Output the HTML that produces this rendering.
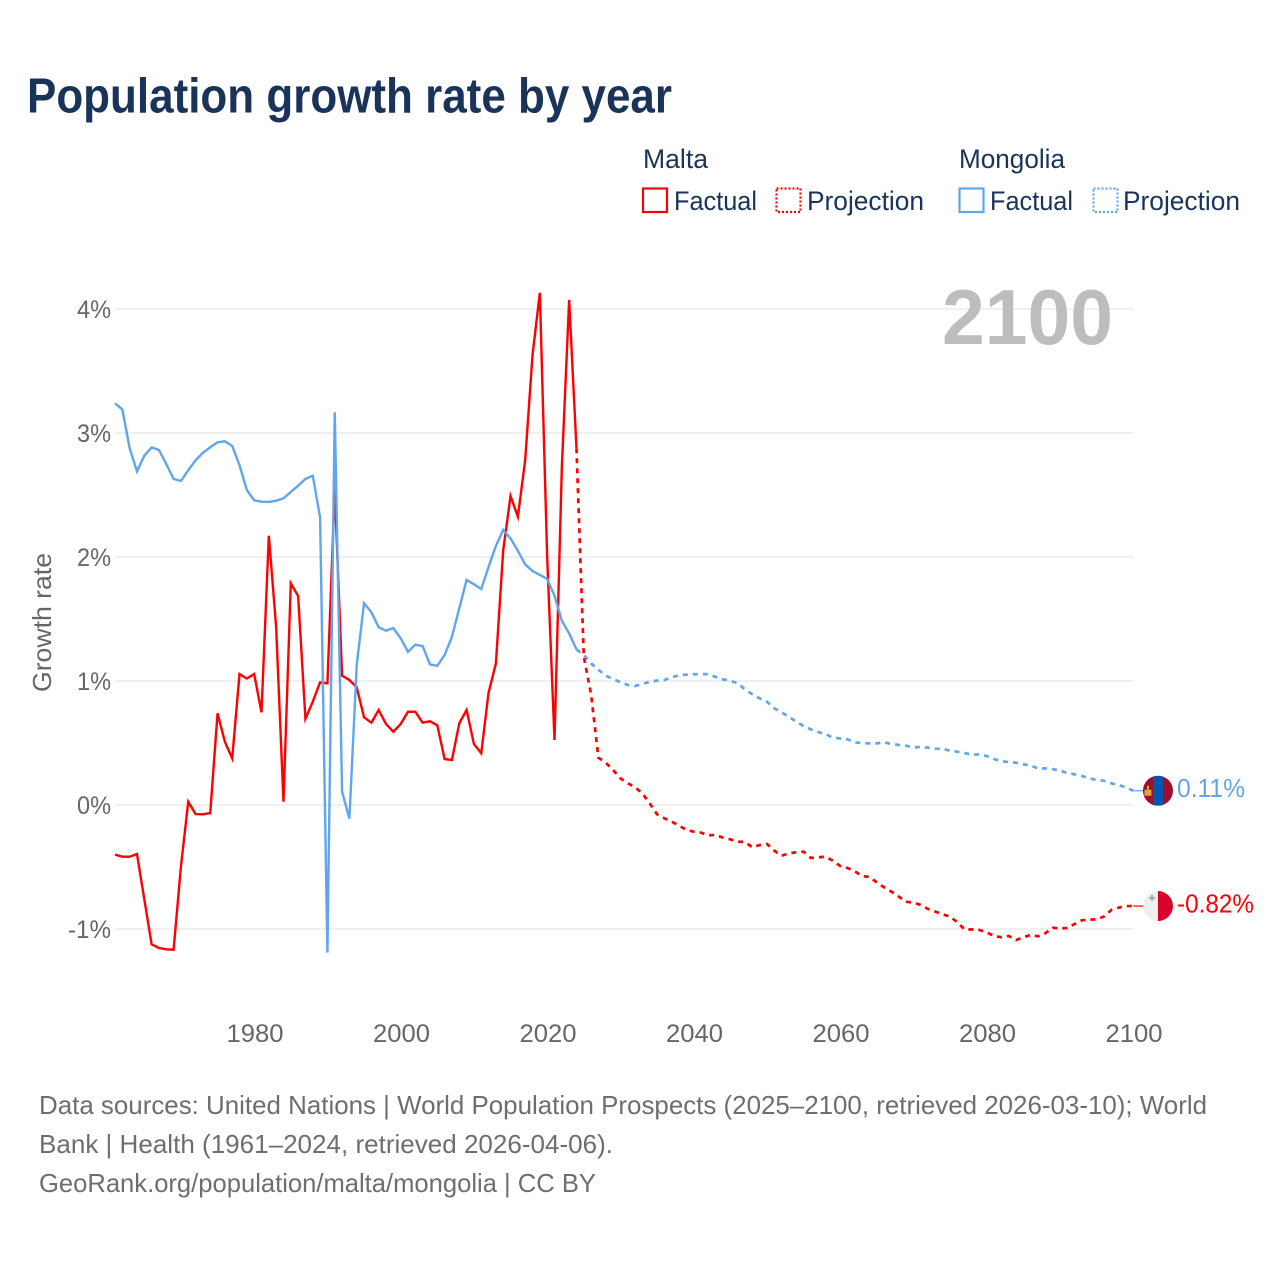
<!DOCTYPE html>
<html lang="en">
<head>
<meta charset="utf-8">
<title>Population growth rate by year</title>
<style>
html,body{margin:0;padding:0;background:#fff;width:1280px;height:1280px;overflow:hidden}
svg{display:block;font-family:"Liberation Sans",Arial,sans-serif}
</style>
</head>
<body>
<svg id="chart" width="1280" height="1280" viewBox="0 0 1280 1280" xmlns="http://www.w3.org/2000/svg">
  <rect width="1280" height="1280" fill="#fff"/>
  <text x="27" y="112.5" font-size="49" font-weight="700" fill="#1a3358" textLength="645" lengthAdjust="spacingAndGlyphs">Population growth rate by year</text>

  <g font-size="27" fill="#1a3358">
    <text x="643" y="168" textLength="65" lengthAdjust="spacingAndGlyphs">Malta</text>
    <rect x="643" y="188.5" width="24" height="23.5" fill="none" stroke="#ff0000" stroke-width="2.2"/>
    <text x="674" y="210" textLength="83" lengthAdjust="spacingAndGlyphs">Factual</text>
    <rect x="776.5" y="188.5" width="24" height="23.5" fill="none" stroke="#ff0000" stroke-width="2.2" stroke-dasharray="2 2"/>
    <text x="807" y="210" textLength="117" lengthAdjust="spacingAndGlyphs">Projection</text>
    <text x="959" y="168" textLength="106" lengthAdjust="spacingAndGlyphs">Mongolia</text>
    <rect x="959.5" y="188.5" width="24" height="23.5" fill="none" stroke="#5fa6ee" stroke-width="2.2"/>
    <text x="990" y="210" textLength="83" lengthAdjust="spacingAndGlyphs">Factual</text>
    <rect x="1093.5" y="188.5" width="24" height="23.5" fill="none" stroke="#5fa6ee" stroke-width="2.2" stroke-dasharray="2 2"/>
    <text x="1123" y="210" textLength="117" lengthAdjust="spacingAndGlyphs">Projection</text>
  </g>

  <g id="grid"></g>
  <g id="yLabels" font-size="25" fill="#666"></g>
  <g id="xLabels" font-size="25" fill="#666"></g>
  <text transform="translate(51,692) rotate(-90)" font-size="26" fill="#666" textLength="139" lengthAdjust="spacingAndGlyphs">Growth rate</text>
  <text x="942" y="344" font-size="78" font-weight="700" fill="#bdbdbd" textLength="171" lengthAdjust="spacingAndGlyphs">2100</text>

  <g id="series"></g>

  <g id="flagMongolia">
    <clipPath id="clipMn"><circle cx="0" cy="0" r="15"/></clipPath>
    <g clip-path="url(#clipMn)">
      <rect x="-15" y="-15" width="30" height="30" fill="#a00c2b"/>
      <rect x="-5" y="-15" width="10" height="30" fill="#0056b3"/>
      <rect x="-13.5" y="-1" width="7" height="6" fill="#e8a33d"/>
      <rect x="-11" y="-5" width="2" height="4" fill="#e8a33d"/>
    </g>
  </g>
  <g id="flagMalta">
    <clipPath id="clipMt"><circle cx="0" cy="0" r="15"/></clipPath>
    <g clip-path="url(#clipMt)">
      <rect x="-15" y="-15" width="15" height="30" fill="#eeeeee"/>
      <rect x="0" y="-15" width="15" height="30" fill="#d8002c"/>
      <path d="M-7-11h2v2h2v2h-2v2h-2v-2h-2v-2h2z" fill="#aaa"/>
    </g>
  </g>
  <text id="labelMongolia" x="1177" font-size="26" fill="#5fa6ee" textLength="68" lengthAdjust="spacingAndGlyphs"></text>
  <text id="labelMalta" x="1177" font-size="26" fill="#ff0000" textLength="77" lengthAdjust="spacingAndGlyphs"></text>

  <g font-size="26" fill="#6e6e6e">
    <text x="39" y="1114" textLength="1168" lengthAdjust="spacingAndGlyphs">Data sources: United Nations | World Population Prospects (2025–2100, retrieved 2026-03-10); World</text>
    <text x="39" y="1153" textLength="574" lengthAdjust="spacingAndGlyphs">Bank | Health (1961–2024, retrieved 2026-04-06).</text>
    <text x="39" y="1192" textLength="557" lengthAdjust="spacingAndGlyphs">GeoRank.org/population/malta/mongolia | CC BY</text>
  </g>
</svg>
<script>
const factualStartYear = 1961;
const projectionStartYear = 2024;
const xTicks = [1980, 2000, 2020, 2040, 2060, 2080, 2100];
const yTicks = [4, 3, 2, 1, 0, -1];
const endLabels = ["0.11%", "-0.82%"];

const maltaFactual = [-0.40,-0.417,-0.417,-0.395,-0.76,-1.124,-1.153,-1.164,-1.167,-0.497,0.027,-0.073,-0.075,-0.065,0.739,0.51,0.376,1.056,1.02,1.056,0.747,2.172,1.435,0.027,1.788,1.685,0.696,0.833,0.989,0.981,2.55,1.043,1.008,0.949,0.707,0.664,0.766,0.653,0.591,0.653,0.752,0.752,0.664,0.675,0.643,0.371,0.363,0.659,0.766,0.492,0.417,0.906,1.142,2.056,2.492,2.325,2.782,3.629,4.131,2.0,0.524,2.72,4.073,2.877];
const mongoliaFactual = [3.24,3.19,2.877,2.69,2.817,2.884,2.863,2.75,2.63,2.613,2.70,2.78,2.84,2.885,2.925,2.933,2.895,2.74,2.54,2.457,2.446,2.444,2.454,2.473,2.524,2.575,2.63,2.656,2.32,-1.19,3.167,0.107,-0.11,1.13,1.627,1.554,1.433,1.406,1.427,1.344,1.236,1.293,1.282,1.134,1.123,1.21,1.357,1.586,1.815,1.78,1.742,1.92,2.09,2.218,2.15,2.05,1.94,1.887,1.855,1.823,1.688,1.486,1.384,1.255];
const maltaProjection = [2.877,1.196,0.89,0.381,0.341,0.282,0.215,0.175,0.143,0.094,0.013,-0.075,-0.107,-0.134,-0.167,-0.2,-0.215,-0.223,-0.244,-0.242,-0.263,-0.277,-0.296,-0.298,-0.341,-0.323,-0.314,-0.368,-0.409,-0.39,-0.381,-0.376,-0.427,-0.422,-0.417,-0.449,-0.492,-0.508,-0.535,-0.573,-0.58,-0.624,-0.664,-0.699,-0.739,-0.78,-0.788,-0.806,-0.839,-0.86,-0.882,-0.90,-0.946,-1.005,-1.003,-1.008,-1.027,-1.056,-1.067,-1.056,-1.089,-1.067,-1.048,-1.059,-1.035,-0.99,-0.995,-0.992,-0.96,-0.93,-0.925,-0.922,-0.90,-0.847,-0.828,-0.815,-0.815];
const mongoliaProjection = [1.255,1.21,1.142,1.09,1.043,1.016,0.99,0.968,0.96,0.976,0.994,1.003,1.008,1.03,1.046,1.051,1.054,1.057,1.054,1.032,1.013,1.003,0.981,0.933,0.893,0.86,0.833,0.78,0.747,0.712,0.672,0.637,0.61,0.588,0.572,0.543,0.537,0.53,0.505,0.5,0.497,0.497,0.505,0.492,0.484,0.478,0.465,0.468,0.462,0.454,0.452,0.438,0.43,0.419,0.406,0.408,0.395,0.371,0.352,0.347,0.341,0.328,0.32,0.293,0.296,0.29,0.277,0.258,0.247,0.234,0.215,0.202,0.196,0.175,0.161,0.143,0.115];

const NS = "http://www.w3.org/2000/svg";
const xScale = function (year) { return 115 + (year - 1961) * 7.325; };
const yScale = function (value) { return 805 - value * 124; };

function linePoints(values, startYear) {
  return values.map(function (v, i) {
    return xScale(startYear + i).toFixed(2) + "," + yScale(v).toFixed(2);
  }).join(" ");
}

const grid = document.getElementById("grid");
const yLabels = document.getElementById("yLabels");
const xLabels = document.getElementById("xLabels");
const series = document.getElementById("series");

yTicks.forEach(function (t) {
  const ln = document.createElementNS(NS, "line");
  
  
  ln.setAttribute("x1", "115");
  ln.setAttribute("x2", "1134");
  ln.setAttribute("y1", yScale(t));
  ln.setAttribute("y2", yScale(t));
  ln.setAttribute("stroke", "#ebebeb");
  ln.setAttribute("stroke-width", "1.6");
  grid.appendChild(ln);
  const label = t + "%";
  const tx = document.createElementNS(NS, "text");
  
  
  tx.setAttribute("x", "111");
  tx.setAttribute("y", yScale(t) + 9);
  tx.setAttribute("text-anchor", "end");
  tx.setAttribute("textLength", t < 0 ? "43" : "34");
  tx.setAttribute("lengthAdjust", "spacingAndGlyphs");
  tx.textContent = label;
  yLabels.appendChild(tx);
});

xTicks.forEach(function (t) {
  const tx = document.createElementNS(NS, "text");
  
  
  tx.setAttribute("x", xScale(t) + 0.8);
  tx.setAttribute("y", "1042");
  tx.setAttribute("text-anchor", "middle");
  tx.setAttribute("textLength", "57");
  tx.setAttribute("lengthAdjust", "spacingAndGlyphs");
  tx.textContent = t;
  xLabels.appendChild(tx);
});

function addSeries(name, values, startYear, color, dashed) {
  const pl = document.createElementNS(NS, "polyline");
  
  
  pl.setAttribute("points", linePoints(values, startYear));
  pl.setAttribute("fill", "none");
  pl.setAttribute("stroke", color);
  pl.setAttribute("stroke-width", dashed ? "2.7" : "2.4");
  pl.setAttribute("stroke-linejoin", "miter");
  pl.setAttribute("stroke-miterlimit", "6");
  if (dashed) pl.setAttribute("stroke-dasharray", "5 5");
  series.appendChild(pl);
}

addSeries("malta-factual-line", maltaFactual, factualStartYear, "#ff0000", false);
addSeries("mongolia-factual-line", mongoliaFactual, factualStartYear, "#5fa6ee", false);
addSeries("mongolia-projection-line", mongoliaProjection, projectionStartYear, "#5fa6ee", true);
addSeries("malta-projection-line", maltaProjection, projectionStartYear, "#ff0000", true);

function addEndMarker(flagId, labelId, name, values, color, label) {
  const v = values[values.length - 1];
  const y = yScale(v);
  const c = document.createElementNS(NS, "line");
  
  
  c.setAttribute("x1", xScale(2100));
  c.setAttribute("x2", xScale(2100) + 10);
  c.setAttribute("y1", y);
  c.setAttribute("y2", y);
  c.setAttribute("stroke", color);
  c.setAttribute("stroke-width", "1.2");
  series.appendChild(c);
  document.getElementById(flagId).setAttribute("transform", "translate(" + (xScale(2100) + 24.8) + "," + y + ")");
  const t = document.getElementById(labelId);
  t.setAttribute("y", y + 6.5);
  t.textContent = label;
}

addEndMarker("flagMongolia", "labelMongolia", "mongolia", mongoliaProjection, "#5fa6ee", endLabels[0]);
addEndMarker("flagMalta", "labelMalta", "malta", maltaProjection, "#ff0000", endLabels[1]);
</script>
</body>
</html>
